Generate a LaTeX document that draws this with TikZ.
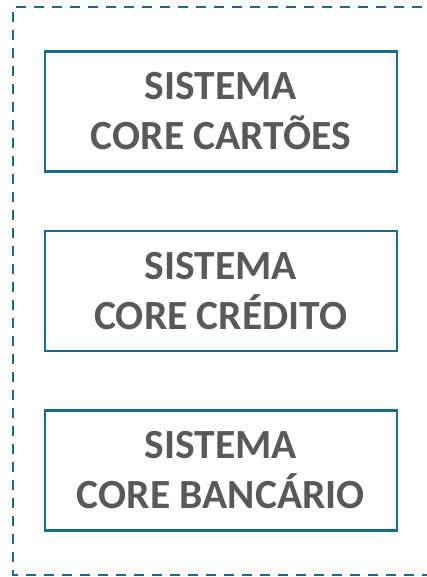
\documentclass[tikz,border=0pt]{standalone}
\usepackage{fontspec}
\setmainfont{Carlito}
\definecolor{frameblue}{RGB}{24,106,142}
\definecolor{textgray}{RGB}{89,89,89}
\begin{document}
\begin{tikzpicture}[x=1pt,y=-1pt,
  corebox/.style={draw=frameblue,line width=2.6pt,minimum width=352pt,minimum height=120pt,
    inner sep=0pt,align=center,text=textgray,font=\fontsize{41.5}{50}\selectfont\bfseries,anchor=north west},
  outerframe/.style={draw=frameblue,line width=2.6pt,dash pattern=on 10pt off 8pt}]
\useasboundingbox (0,0) rectangle (426,577);
\coordinate (tr) at (440,7);
\coordinate (tl) at (13,7);
\coordinate (bl) at (13,575);
\coordinate (br) at (440,575);
\draw[outerframe] (tr) -- (tl) -- (bl) -- (br);
\node[corebox] (cartoes) at (43.5,50) {SISTEMA\\CORE CARTÕES};
\node[corebox] (credito) at (43.5,229.5) {SISTEMA\\CORE CRÉDITO};
\node[corebox] (bancario) at (43.5,409) {SISTEMA\\CORE BANCÁRIO};
\end{tikzpicture}
\end{document}
